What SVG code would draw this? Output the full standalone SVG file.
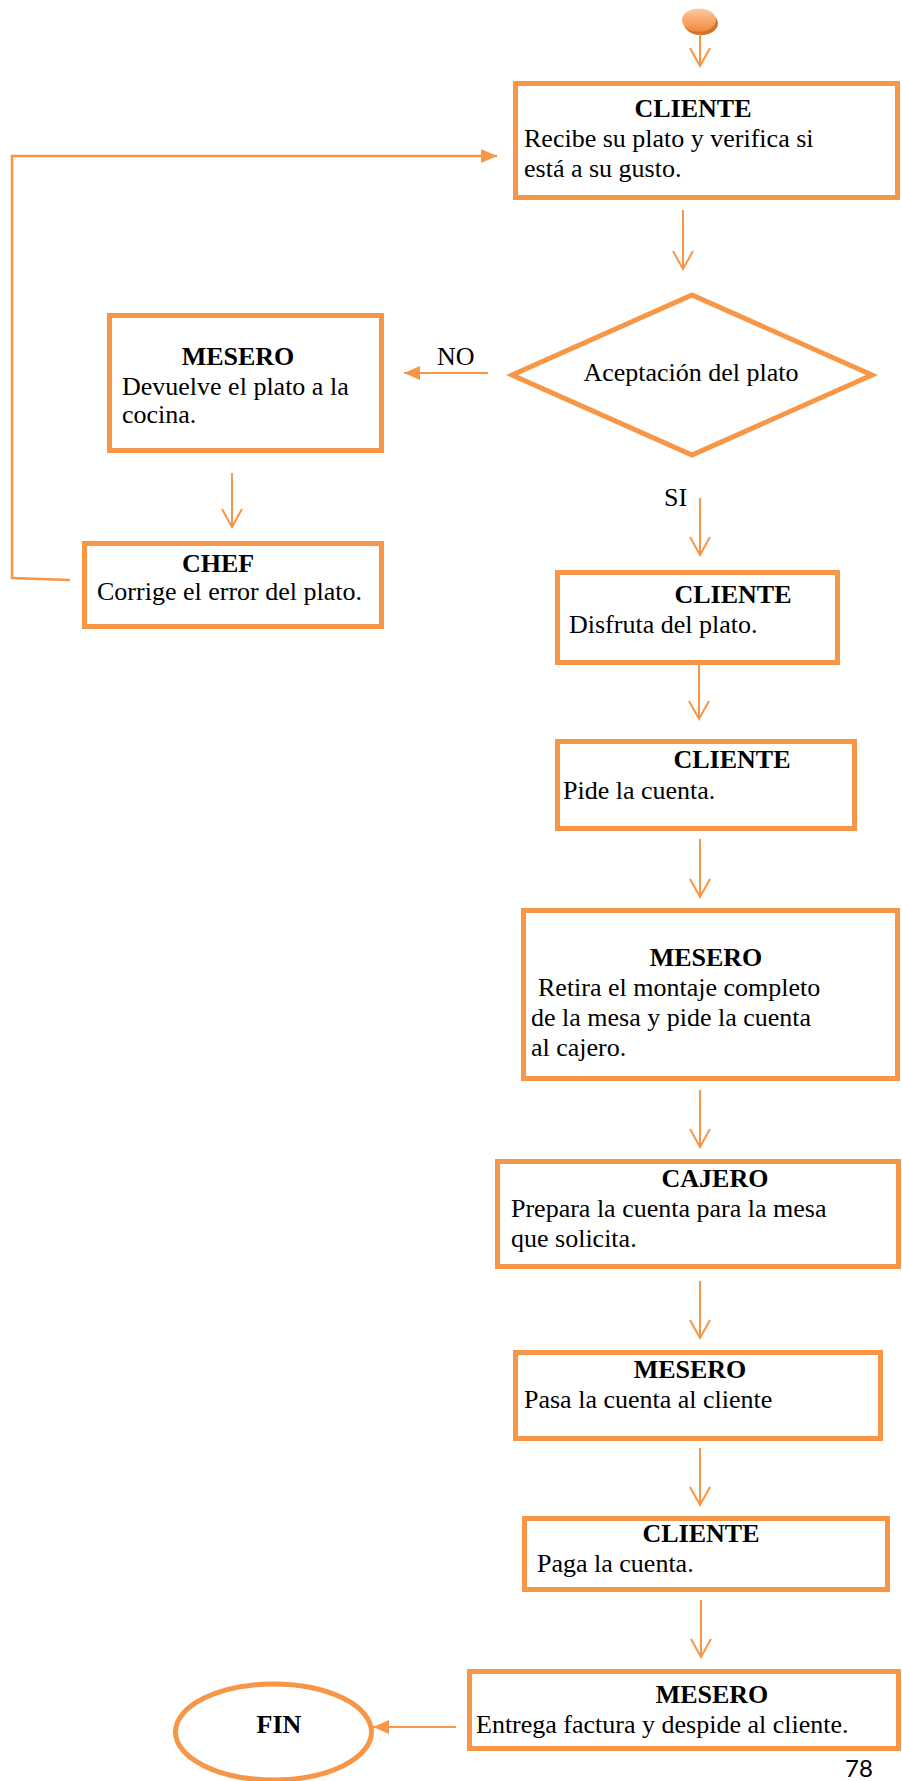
<svg xmlns="http://www.w3.org/2000/svg" width="902" height="1781" viewBox="0 0 902 1781">
  <style>
    .box { fill: #ffffff; stroke: #F79646; stroke-width: 5; }
    .flow { fill: none; stroke: #F79646; stroke-width: 2; }
    .loop { fill: none; stroke: #F79646; stroke-width: 2.5; }
    .title { font-family: "Liberation Serif", "Times New Roman", serif; font-size: 26px; font-weight: bold; fill: #000; text-anchor: middle; }
    .txt { font-family: "Liberation Serif", "Times New Roman", serif; font-size: 26px; fill: #000; }
    .page { font-family: Lato, "Open Sans", sans-serif; font-size: 24px; fill: #000; }
  </style>
  <defs>
    <marker id="open" viewBox="0 0 21 22" refX="19" refY="11" markerWidth="21" markerHeight="22" markerUnits="userSpaceOnUse" orient="auto">
      <path d="M1,1 L19,11 L1,21" fill="none" stroke="#F79646" stroke-width="2"/>
    </marker>
    <marker id="solid" viewBox="0 0 16 14" refX="16" refY="7" markerWidth="16" markerHeight="14" markerUnits="userSpaceOnUse" orient="auto">
      <path d="M0,0 L16,7 L0,14 Z" fill="#F79646"/>
    </marker>
    <linearGradient id="disc" x1="0" y1="0" x2="0" y2="1">
      <stop offset="0" stop-color="#FCC9A0"/>
      <stop offset="1" stop-color="#F28A3E"/>
    </linearGradient>
  </defs>

  <!-- start marker -->
  <g id="start">
    <ellipse cx="701" cy="23.5" rx="17" ry="11.5" fill="#D4732A"/>
    <ellipse cx="699" cy="20" rx="17" ry="11.5" fill="url(#disc)"/>
  </g>

  <g id="connectors">
    <line class="flow" x1="700" y1="34" x2="700" y2="66" marker-end="url(#open)"/>
    <line class="flow" x1="683" y1="210" x2="683" y2="269" marker-end="url(#open)"/>
    <line class="flow" x1="488" y1="373" x2="404" y2="373" marker-end="url(#solid)"/>
    <line class="flow" x1="232" y1="473" x2="232" y2="527" marker-end="url(#open)"/>
    <polyline class="loop" points="70,580 12,578 12,156 497,156" marker-end="url(#solid)"/>
    <line class="flow" x1="700" y1="498" x2="700" y2="555" marker-end="url(#open)"/>
    <line class="flow" x1="699" y1="665" x2="699" y2="719" marker-end="url(#open)"/>
    <line class="flow" x1="700" y1="839" x2="700" y2="897" marker-end="url(#open)"/>
    <line class="flow" x1="700" y1="1090" x2="700" y2="1147" marker-end="url(#open)"/>
    <line class="flow" x1="700" y1="1281" x2="700" y2="1338" marker-end="url(#open)"/>
    <line class="flow" x1="700" y1="1448" x2="700" y2="1505" marker-end="url(#open)"/>
    <line class="flow" x1="701" y1="1600" x2="701" y2="1657" marker-end="url(#open)"/>
    <line class="flow" x1="456" y1="1727" x2="373" y2="1727" marker-end="url(#solid)"/>
    <text class="txt" x="437" y="365">NO</text>
    <text class="txt" x="664" y="506">SI</text>
  </g>

  <g id="cliente-recibe">
    <rect class="box" x="515.5" y="83.5" width="382" height="114"/>
    <text class="title" x="693" y="117">CLIENTE</text>
    <text class="txt" x="524" y="147">Recibe su plato y verifica si</text>
    <text class="txt" x="524" y="177">está a su gusto.</text>
  </g>

  <g id="aceptacion">
    <polygon points="512,375 692,295 872,375 692,455" fill="#ffffff" stroke="#F79646" stroke-width="5"/>
    <text class="txt" x="691" y="381" text-anchor="middle">Aceptación del plato</text>
  </g>

  <g id="mesero-devuelve">
    <rect class="box" x="109.5" y="315.5" width="272" height="135"/>
    <text class="title" x="238" y="365">MESERO</text>
    <text class="txt" x="122" y="395">Devuelve el plato a la</text>
    <text class="txt" x="122" y="423">cocina.</text>
  </g>

  <g id="chef">
    <rect class="box" x="84.5" y="543.5" width="297" height="83"/>
    <text class="title" x="218" y="572">CHEF</text>
    <text class="txt" x="97" y="600">Corrige el error del plato.</text>
  </g>

  <g id="cliente-disfruta">
    <rect class="box" x="557.5" y="572.5" width="280" height="90"/>
    <text class="title" x="733" y="603">CLIENTE</text>
    <text class="txt" x="569" y="633">Disfruta del plato.</text>
  </g>

  <g id="cliente-pide">
    <rect class="box" x="557.5" y="741.5" width="297" height="87"/>
    <text class="title" x="732" y="768">CLIENTE</text>
    <text class="txt" x="563" y="799">Pide la cuenta.</text>
  </g>

  <g id="mesero-retira">
    <rect class="box" x="523.5" y="910.5" width="374" height="168"/>
    <text class="title" x="706" y="966">MESERO</text>
    <text class="txt" x="538" y="996">Retira el montaje completo</text>
    <text class="txt" x="531" y="1026">de la mesa y pide la cuenta</text>
    <text class="txt" x="531" y="1056">al cajero.</text>
  </g>

  <g id="cajero">
    <rect class="box" x="497.5" y="1161.5" width="401" height="105"/>
    <text class="title" x="715" y="1187">CAJERO</text>
    <text class="txt" x="511" y="1217">Prepara la cuenta para la mesa</text>
    <text class="txt" x="511" y="1247">que solicita.</text>
  </g>

  <g id="mesero-pasa">
    <rect class="box" x="515.5" y="1352.5" width="365" height="86"/>
    <text class="title" x="690" y="1378">MESERO</text>
    <text class="txt" x="524" y="1408">Pasa la cuenta al cliente</text>
  </g>

  <g id="cliente-paga">
    <rect class="box" x="524.5" y="1518.5" width="363" height="71"/>
    <text class="title" x="701" y="1542">CLIENTE</text>
    <text class="txt" x="537" y="1572">Paga la cuenta.</text>
  </g>

  <g id="mesero-entrega">
    <rect class="box" x="469.5" y="1671.5" width="429" height="77"/>
    <text class="title" x="712" y="1703">MESERO</text>
    <text class="txt" x="476" y="1733">Entrega factura y despide al cliente.</text>
  </g>

  <g id="fin">
    <ellipse cx="273.5" cy="1732" rx="98" ry="48" fill="#ffffff" stroke="#F79646" stroke-width="5"/>
    <text class="title" x="279" y="1733">FIN</text>
  </g>

  <text class="page" x="845" y="1777">78</text>
</svg>
